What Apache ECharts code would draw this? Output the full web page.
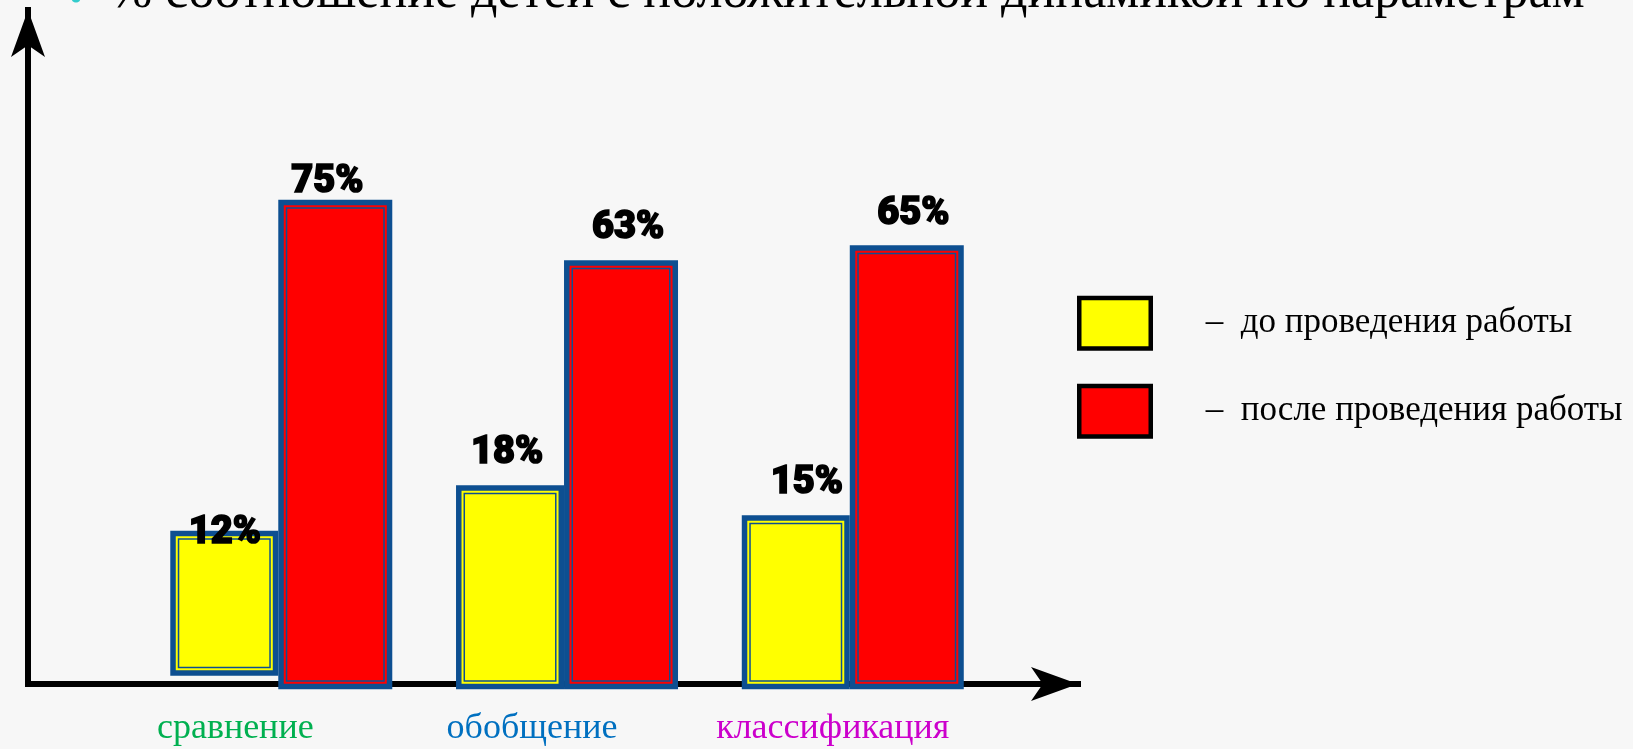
<!DOCTYPE html>
<html>
<head>
<meta charset="utf-8">
<script src="https://cdn.jsdelivr.net/npm/echarts@6/dist/echarts.min.js"></script>
<style>
  html, body { margin: 0; padding: 0; background: #f7f7f7; }
  #chart { width: 1633px; height: 749px; }
</style>
</head>
<body>
<div id="chart"></div>
<script>
// ---- data ----
const categories = ['сравнение', 'обобщение', 'классификация'];
const seriesNames = ['до проведения работы', 'после проведения работы'];
const beforePercent = [12, 18, 15];          // printed labels
const afterPercent = [75, 63, 65];
const beforeBarHeight = [21.3, 30.0, 25.6];  // bar heights as drawn (picture units, 0..100)
const beforeBarBase = [2.0, 0, 0];
const afterBarHeight = [72.0, 63.1, 65.3];
const titleText = '% соотношение детей с положительной динамикой по параметрам';

// ---- styling ----
const BLUE = '#0d4f91';
const YELLOW = '#ffff00';
const RED = '#ff0000';
const catColors = ['#00b050', '#0070c0', '#cc00cc'];
const catShift = [86, 64, 34];
const beforeLabelNudge = [[0.5, -3], [-3, 32], [11, 32]];
const afterLabelNudge = [[-8, 17.5], [7, 31.7], [6.5, 31]];

function barRenderer(side, fill, nudges) {
  return function (params, api) {
    const ci = api.value(0);
    const pb = api.coord([ci, api.value(1)]);
    const pt = api.coord([ci, api.value(2)]);
    const w = side === 'left' ? 108 : 114;
    const x = side === 'left' ? pb[0] - w : pb[0];
    const y = pt[1];
    const h = pb[1] - pt[1];
    const n = nudges[params.dataIndex];
    const o = 5.5, s = 2, b = 1.5;
    return {
      type: 'group',
      children: [
        { type: 'rect', shape: { x: x, y: y, width: w, height: h }, style: { fill: BLUE } },
        { type: 'rect', shape: { x: x + o, y: y + o, width: w - 2 * o, height: h - 2 * o }, style: { fill: fill } },
        { type: 'rect', shape: { x: x + o + s, y: y + o + s, width: w - 2 * (o + s), height: h - 2 * (o + s) }, style: { fill: BLUE } },
        { type: 'rect', shape: { x: x + o + s + b, y: y + o + s + b, width: w - 2 * (o + s + b), height: h - 2 * (o + s + b) }, style: { fill: fill } },
        { type: 'text', x: x + w / 2 + n[0], y: y - n[1],
          style: { text: api.value(3) + '%', fill: '#000', stroke: '#000', lineWidth: 1.6,
                   fontFamily: 'Roboto', fontWeight: 900,
                   fontSize: 38, align: 'center', verticalAlign: 'middle' } }
      ]
    };
  };
}

const chart = echarts.init(document.getElementById('chart'));
const serifFont = 'Liberation Serif';
const rich = {};
categories.forEach((c, i) => {
  rich['c' + i] = { color: catColors[i], fontFamily: serifFont, fontSize: 36, padding: [0, catShift[i], 0, 0] };
});

chart.setOption({
  backgroundColor: '#f7f7f7',
  animation: false,
  title: [
    { text: '•', left: 64, top: -24, textStyle: { color: '#33cccc', fontSize: 40, fontFamily: serifFont, fontWeight: 'normal' } },
    { text: titleText, left: 104, top: -37.5, textStyle: { color: '#000', fontSize: 52, fontFamily: serifFont, fontWeight: 'normal' } }
  ],
  legend: {
    orient: 'vertical',
    left: 1077, top: 295.75, padding: 0,
    itemWidth: 71.5, itemHeight: 50.5, itemGap: 33,
    icon: 'rect',
    selectedMode: false,
    data: [
      { name: seriesNames[0], itemStyle: { color: YELLOW, borderColor: '#000', borderWidth: 4.5 } },
      { name: seriesNames[1], itemStyle: { color: RED, borderColor: '#000', borderWidth: 4.5 } }
    ],
    formatter: name => '–  ' + name,
    textStyle: { fontFamily: serifFont, fontSize: 35, color: '#000', padding: [8, 0, 0, 50] }
  },
  grid: [
    { left: 135.4, width: 857.25, top: 9.3, bottom: 59.7 },
    { left: 28, width: 1050, top: 10, height: 674 }
  ],
  xAxis: [
    { type: 'category', gridIndex: 0, data: categories,
      axisLine: { show: false }, axisTick: { show: false },
      axisLabel: { interval: 0, margin: 21, formatter: (v, i) => '{c' + i + '|' + v + '}', rich: rich } },
    { type: 'value', gridIndex: 1, min: 0, max: 1,
      axisLine: { show: true, symbol: ['none', 'arrow'], symbolSize: [25.5, 47],
                  lineStyle: { color: '#000', width: 6, cap: 'square' } },
      axisTick: { show: false }, axisLabel: { show: false }, splitLine: { show: false } }
  ],
  yAxis: [
    { type: 'value', gridIndex: 0, min: 0, max: 100, show: false },
    { type: 'value', gridIndex: 1, min: 0, max: 1,
      axisLine: { show: true, symbol: ['none', 'arrow'], symbolSize: [25.5, 47],
                  lineStyle: { color: '#000', width: 6, cap: 'square' } },
      axisTick: { show: false }, axisLabel: { show: false }, splitLine: { show: false } }
  ],
  series: [
    { type: 'custom', name: seriesNames[0], xAxisIndex: 0, yAxisIndex: 0,
      itemStyle: { color: YELLOW },
      encode: { x: 0, y: [1, 2] },
      renderItem: barRenderer('left', YELLOW, beforeLabelNudge),
      data: categories.map((c, i) => [i, beforeBarBase[i], beforeBarBase[i] + beforeBarHeight[i], beforePercent[i]]) },
    { type: 'custom', name: seriesNames[1], xAxisIndex: 0, yAxisIndex: 0,
      itemStyle: { color: RED },
      encode: { x: 0, y: [1, 2] },
      renderItem: barRenderer('right', RED, afterLabelNudge),
      data: categories.map((c, i) => [i, 0, afterBarHeight[i], afterPercent[i]]) }
  ]
});
</script>
</body>
</html>
